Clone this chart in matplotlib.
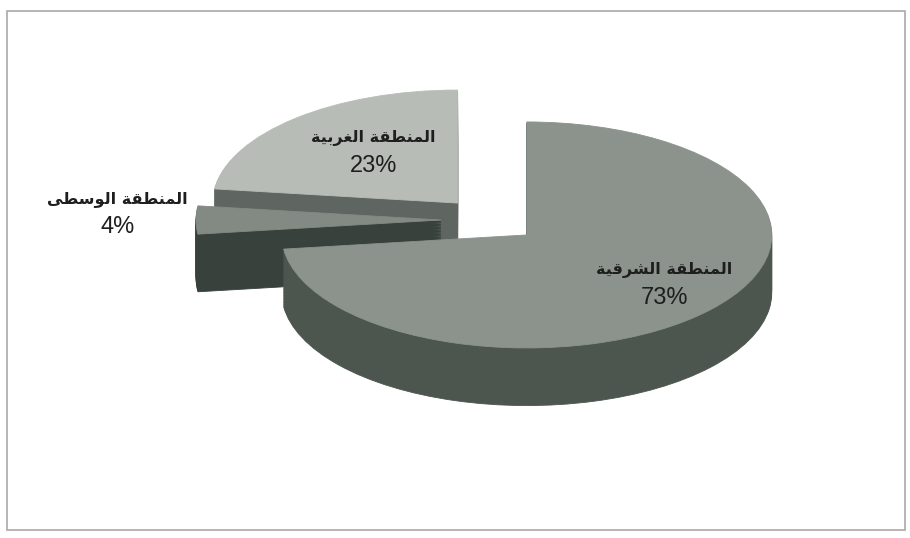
import matplotlib
matplotlib.use("Agg")
import matplotlib.pyplot as plt
from matplotlib.patches import Rectangle
import numpy as np

# data
regions = ["المنطقة الشرقية", "المنطقة الوسطى", "المنطقة الغربية"]
shares = [73, 4, 23]

# look
top_colors = ["#8b938c", "#838a84", "#b8bcb7"]
side_colors = ["#4c564e", "#38413b", "#5f6661"]
draw_rank = [2, 1, 0]          # back to front: west, centre, east
label_dist = [0.75, 1.32, 0.52]
explode = 0.2
depth = 0.51                   # thickness of the disc, in units of the vertical radius
n_layers = 40

# letter forms: isolated, final, initial, medial (None = does not join the next letter)
FORMS = {
    "ا": ("\uFE8D", "\uFE8E", None, None),
    "ل": ("\uFEDD", "\uFEDE", "\uFEDF", "\uFEE0"),
    "م": ("\uFEE1", "\uFEE2", "\uFEE3", "\uFEE4"),
    "ن": ("\uFEE5", "\uFEE6", "\uFEE7", "\uFEE8"),
    "ط": ("\uFEC1", "\uFEC2", "\uFEC3", "\uFEC4"),
    "ق": ("\uFED5", "\uFED6", "\uFED7", "\uFED8"),
    "ة": ("\uFE93", "\uFE94", None, None),
    "ش": ("\uFEB5", "\uFEB6", "\uFEB7", "\uFEB8"),
    "ر": ("\uFEAD", "\uFEAE", None, None),
    "ي": ("\uFEF1", "\uFEF2", "\uFEF3", "\uFEF4"),
    "غ": ("\uFECD", "\uFECE", "\uFECF", "\uFED0"),
    "ب": ("\uFE8F", "\uFE90", "\uFE91", "\uFE92"),
    "و": ("\uFEED", "\uFEEE", None, None),
    "س": ("\uFEB1", "\uFEB2", "\uFEB3", "\uFEB4"),
    "ى": ("\uFEEF", "\uFEF0", None, None),
}


def shape_arabic(text):
    words = []
    for word in text.split(" "):
        shaped = []
        for i, ch in enumerate(word):
            iso, fin, ini, med = FORMS[ch]
            prev_joins = i > 0 and FORMS[word[i - 1]][2] is not None
            next_joins = i < len(word) - 1 and ini is not None
            if prev_joins and next_joins:
                shaped.append(med)
            elif prev_joins:
                shaped.append(fin)
            elif next_joins:
                shaped.append(ini)
            else:
                shaped.append(iso)
        words.append("".join(shaped))
    # matplotlib lays text left to right, so hand it the visual order
    return " ".join(words)[::-1]


fig = plt.figure(figsize=(9.1, 5.38), dpi=100)
ax = fig.add_axes([0, 0, 1, 1])

# extruded sides: stack of pies going up, then the top face
for k in range(n_layers + 1):
    z = -depth + depth * k / n_layers
    cols = top_colors if k == n_layers else side_colors
    wedges, _ = ax.pie(shares, explode=[explode] * len(shares), startangle=90,
                       counterclock=False, center=(0, z), colors=cols,
                       wedgeprops=dict(linewidth=0.6, antialiased=True))
    for i, w in enumerate(wedges):
        w.set_edgecolor(cols[i])
        w.set_zorder(draw_rank[i] * 100 + k)

# labels, placed along each slice's mid angle
start = 90.0
total = sum(shares)
for i, (name, v) in enumerate(zip(regions, shares)):
    span = 360.0 * v / total
    mid = np.deg2rad(start - span / 2)
    start -= span
    cx = (explode + label_dist[i]) * np.cos(mid)
    cy = (explode + label_dist[i]) * np.sin(mid)
    ax.annotate(shape_arabic(name), (cx, cy), xytext=(0, 15), textcoords="offset points",
                ha="center", va="center", fontsize=11.5, color="#1e1e1e",
                family="DejaVu Sans", weight="bold", zorder=1000)
    ax.annotate(f"{v}%", (cx, cy), xytext=(0, -5), textcoords="offset points",
                ha="center", va="center", fontsize=17, color="#1e1e1e",
                family="Liberation Sans", zorder=1000)

# pixel layout: 1 unit = 245 px across, 113 px down; pie centre at (490, 220) from top-left
ax.set_aspect("auto")
ax.set_xlim(-490 / 245, (910 - 490) / 245)
ax.set_ylim(-(538 - 220) / 113, 220 / 113)
ax.axis("off")

fig.patches.append(Rectangle((7 / 910, 8 / 538), 898 / 910, 519 / 538, transform=fig.transFigure,
                             fill=False, edgecolor="#a9a9a9", linewidth=1.2))

fig.savefig("out.png", dpi=100, facecolor="white")
